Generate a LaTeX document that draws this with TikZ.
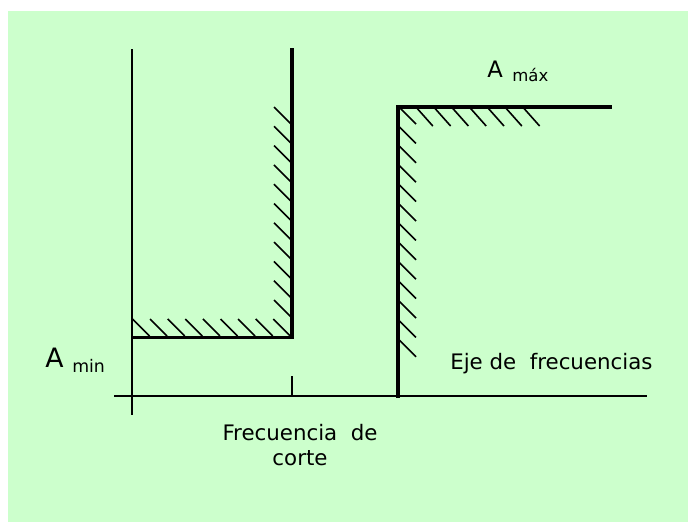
\documentclass[tikz,border=0pt]{standalone}
\usepackage{fontspec}
\setmainfont{DejaVu Sans}
\definecolor{bggreen}{HTML}{CCFFCC}
\tikzset{
  axisline/.style={line width=1.4pt, black},
  heavy/.style={line width=2.4pt, black, line cap=rect},
  hatchline/.style={line width=1.2pt, black},
  lbl/.style={inner sep=0pt, anchor=base west, text=black}
}
\begin{document}
\begin{tikzpicture}[x=0.75pt,y=-0.75pt]
\useasboundingbox (0,0) rectangle (688,522);
\fill[bggreen] (8,11) rectangle (688,522);
% axes
\coordinate (xl) at (114,396);
\coordinate (xr) at (647,396);
\coordinate (yt) at (132,49);
\coordinate (yb) at (132,415);
\draw[axisline] (xl) -- (xr);
\draw[axisline] (yt) -- (yb);
\coordinate (tk1) at (292,376);
\coordinate (tk2) at (292,396);
\draw[axisline] (tk1) -- (tk2);
% left (low-pass) template
\foreach \i in {0,...,8} \draw[hatchline] (132.5+17.6*\i,319) -- ++(17,17);
\foreach \i in {0,...,10} \draw[hatchline] (274,107+19.3*\i) -- ++(17,17);
\coordinate (la) at (292,50);
\coordinate (lb) at (292,337.5);
\coordinate (lc) at (133,337.5);
\draw[heavy] (la) -- (lb) -- (lc);
% right template
\foreach \i in {0,...,12} \draw[hatchline] (399,107+19.4*\i) -- ++(17,17);
\foreach \i in {1,...,7} \draw[hatchline] (399+17.8*\i,108) -- ++(16,18);
\coordinate (ra) at (398,396);
\coordinate (rb) at (398,107);
\coordinate (rc) at (610,107);
\draw[heavy] (ra) -- (rb) -- (rc);
% labels
\node[lbl, font=\fontsize{20pt}{22pt}\selectfont] (amin) at (45,367) {A};
\node[lbl, font=\fontsize{13pt}{15pt}\selectfont] (amins) at (72,372) {min};
\node[lbl, font=\fontsize{17pt}{19pt}\selectfont] (amax) at (487,77) {A};
\node[lbl, font=\fontsize{12.4pt}{14pt}\selectfont] (amaxs) at (512,81) {máx};
\node[lbl, font=\fontsize{16pt}{18pt}\selectfont] (eje) at (450,369) {Eje de\ \ frecuencias};
\node[inner sep=0pt, anchor=base, font=\fontsize{16pt}{18pt}\selectfont] (fc1) at (300,440) {Frecuencia\ \ de};
\node[inner sep=0pt, anchor=base, font=\fontsize{16pt}{18pt}\selectfont] (fc2) at (300,465) {corte};
\end{tikzpicture}
\end{document}
